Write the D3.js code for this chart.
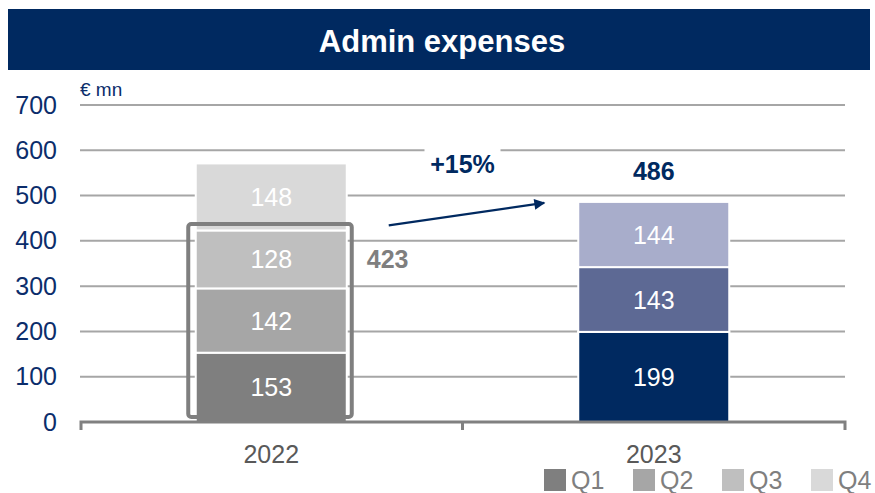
<!DOCTYPE html>
<html>
<head>
<meta charset="utf-8">
<script src="https://cdn.jsdelivr.net/npm/d3@7"></script>
<style>
  body { margin: 0; background: #fff; }
  svg { display: block; font-family: "Liberation Sans", Arial, sans-serif; }
</style>
</head>
<body>
<svg id="chart" width="875" height="493"></svg>
<script>
let years = ['2022', '2023'];
let quarters = ['Q1', 'Q2', 'Q3', 'Q4'];
let values2022 = [153, 142, 128, 148];
let values2023 = [199, 143, 144];
let yTicks = [0, 100, 200, 300, 400, 500, 600, 700];
let highlightTotal = 423;
let total2023 = 486;
let growthLabel = '+15%';

let grayColors = ['#7f7f7f', '#a6a6a6', '#bfbfbf', '#d9d9d9'];
let blueColors = ['#002960', '#5d6994', '#a8adcb'];
let navy = '#0b2d6b';

let svg = d3.select('#chart');

// title bar
svg.append('rect')
	.attr('x', 8).attr('y', 9)
	.attr('width', 862).attr('height', 61)
	.attr('fill', '#002960');
svg.append('text')
	.attr('x', 442).attr('y', 52)
	.attr('text-anchor', 'middle')
	.attr('fill', '#fff')
	.attr('font-weight', 'bold')
	.attr('font-size', 31)
	.text('Admin expenses');

let x = d3.scaleBand().domain(years).range([80, 845]);
let y = d3.scaleLinear().domain([0, 700]).range([422, 105]);
let barW = 151;

// gridlines
svg.append('g')
	.selectAll('line')
	.data(yTicks.filter((t) => t > 0))
	.enter()
	.append('line')
	.attr('x1', 80).attr('x2', 845)
	.attr('y1', (t) => y(t)).attr('y2', (t) => y(t))
	.attr('stroke', '#a6a6a6')
	.attr('stroke-width', 2);

// y axis labels
let yAxis = d3.axisLeft(y).tickValues(yTicks).tickSize(0).tickPadding(0);
let yg = svg.append('g').attr('transform', 'translate(57,0)').call(yAxis);
yg.select('.domain').remove();
yg.selectAll('text')
	.attr('fill', navy)
	.attr('font-size', 25)
	.attr('font-family', '"Liberation Sans", Arial, sans-serif');

svg.append('text')
	.attr('x', 80).attr('y', 96)
	.attr('fill', navy)
	.attr('font-size', 19)
	.text('€ mn');

// stacks
let stackData = [
	{ year: '2022', vals: values2022, colors: grayColors },
	{ year: '2023', vals: values2023, colors: blueColors }
];
stackData.forEach((s) => {
	let cx = x(s.year) + x.bandwidth() / 2;
	let acc = 0;
	let segs = s.vals.map((v, i) => {
		let seg = { y0: acc, y1: acc + v, v: v, color: s.colors[i] };
		acc += v;
		return seg;
	});
	let g = svg.append('g');
	g.selectAll('rect')
		.data(segs)
		.enter()
		.append('rect')
		.attr('x', cx - barW / 2)
		.attr('width', barW)
		.attr('y', (d) => y(d.y1))
		.attr('height', (d) => y(d.y0) - y(d.y1))
		.attr('fill', (d) => d.color)
		.attr('stroke', '#fff')
		.attr('stroke-width', 2);
	g.selectAll('text')
		.data(segs)
		.enter()
		.append('text')
		.attr('x', cx)
		.attr('y', (d) => y((d.y0 + d.y1) / 2))
		.attr('dy', '0.36em')
		.attr('text-anchor', 'middle')
		.attr('fill', '#fff')
		.attr('font-size', 25)
		.text((d) => d.v);
});

// x axis
svg.append('path')
	.attr('d', `M81,430V${y(0)}H845V430`)
	.attr('fill', 'none')
	.attr('stroke', '#808080')
	.attr('stroke-width', 3);
svg.append('line')
	.attr('x1', x('2023')).attr('x2', x('2023'))
	.attr('y1', y(0)).attr('y2', 430)
	.attr('stroke', '#808080').attr('stroke-width', 3);
svg.selectAll('.xlab')
	.data(years)
	.enter()
	.append('text')
	.attr('x', (d) => x(d) + x.bandwidth() / 2)
	.attr('y', 463)
	.attr('text-anchor', 'middle')
	.attr('fill', '#595959')
	.attr('font-size', 25)
	.text((d) => d);

// highlight box around first three quarters of 2022
let c22 = x('2022') + x.bandwidth() / 2;
let boxRight = c22 + barW / 2 + 5;
svg.append('rect')
	.attr('x', c22 - barW / 2 - 7.5)
	.attr('y', y(highlightTotal) - 6.5)
	.attr('width', barW + 12.5)
	.attr('height', y(0) - 5 - (y(highlightTotal) - 6.5))
	.attr('rx', 3)
	.attr('fill', 'none')
	.attr('stroke', '#7f7f7f')
	.attr('stroke-width', 4);
svg.append('text')
	.attr('x', boxRight + 15)
	.attr('y', y(values2022[0] + values2022[1] + values2022[2] / 2))
	.attr('dy', '0.36em')
	.attr('fill', '#7f7f7f')
	.attr('font-weight', 'bold')
	.attr('font-size', 25)
	.text(highlightTotal);

// growth arrow
let c23 = x('2023') + x.bandwidth() / 2;
svg.append('defs').append('marker')
	.attr('id', 'arrow')
	.attr('viewBox', '0 0 10 10')
	.attr('refX', 9).attr('refY', 5)
	.attr('markerWidth', 6).attr('markerHeight', 5)
	.attr('markerUnits', 'strokeWidth')
	.attr('orient', 'auto')
	.append('path')
	.attr('d', 'M0,0L10,5L0,10Z')
	.attr('fill', '#002960');
svg.append('line')
	.attr('x1', boxRight + 37).attr('y1', y(highlightTotal) - 5)
	.attr('x2', c23 - barW / 2 - 34).attr('y2', y(total2023) + 1)
	.attr('stroke', '#002960')
	.attr('stroke-width', 2.2)
	.attr('marker-end', 'url(#arrow)');

// growth label and 2023 total, with white backing over gridlines
let boxed = [
	{ t: growthLabel, x: x('2023'), y: 173 },
	{ t: total2023, x: c23, y: y(total2023) - 22 }
];
boxed.forEach((b) => {
	svg.append('rect')
		.attr('x', b.x - 38).attr('y', b.y - 24)
		.attr('width', 76).attr('height', 30)
		.attr('fill', '#fff');
	svg.append('text')
		.attr('x', b.x).attr('y', b.y)
		.attr('text-anchor', 'middle')
		.attr('fill', '#002960')
		.attr('font-weight', 'bold')
		.attr('font-size', 25)
		.text(b.t);
});

// legend
let legend = svg.append('g')
	.selectAll('g')
	.data(quarters)
	.enter()
	.append('g')
	.attr('transform', (d, i) => `translate(${544 + i * 89},469)`);
legend.append('rect')
	.attr('width', 22).attr('height', 22)
	.attr('fill', (d, i) => grayColors[i]);
legend.append('text')
	.attr('x', 27).attr('y', 20)
	.attr('fill', '#7f7f7f')
	.attr('font-size', 25)
	.text((d) => d);
</script>
</body>
</html>
